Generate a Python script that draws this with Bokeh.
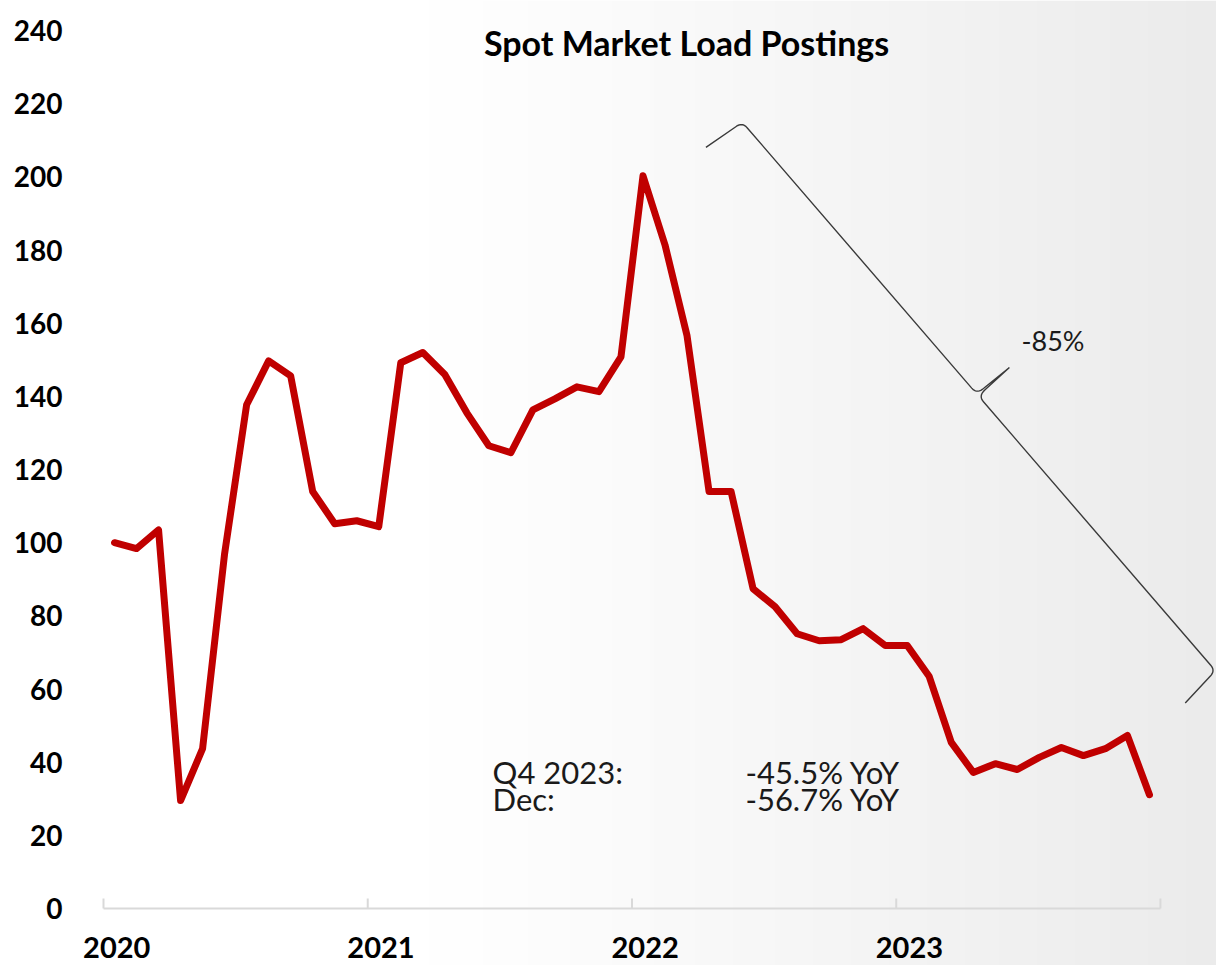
import numpy as np
from bokeh.plotting import figure
from bokeh.models import Range1d, FixedTicker
from bokeh.core.properties import value
from bokeh.embed import file_html
from bokeh.resources import INLINE

# ---------------- data ----------------
TITLE = "Spot Market Load Postings"
MONTH_IDX = list(range(48))  # Jan 2020 .. Dec 2023
LOADS = [100.0, 98.4, 103.5, 29.5, 43.7, 97.0, 137.7, 149.7, 145.6, 114.0, 105.2, 106.0,
         104.4, 149.2, 152.0, 146.0, 135.5, 126.5, 124.6, 136.3, 139.3, 142.6, 141.3, 150.8,
         200.3, 181.4, 156.6, 114.0, 114.0, 87.4, 82.5, 75.1, 73.2, 73.5, 76.5, 71.9,
         71.9, 63.4, 45.4, 37.2, 39.6, 38.0, 41.3, 44.0, 41.8, 43.7, 47.3, 31.1]
YEARS = ["2020", "2021", "2022", "2023"]
Y_TICKS = list(range(0, 241, 20))
NOTE_LABELS = ["Q4 2023:", "Dec:"]
NOTE_VALUES = ["-45.5% YoY", "-56.7% YoY"]
BRACE_LABEL = "-85%"

# ---------------- geometry ----------------
W, H = 1216, 965
LEFT = 76         # frame left edge (px)
AXIS_X = 103      # pixel column of the first month boundary
PX_X = 22.02      # px per month
PX_Y = 3.658      # px per unit
ZERO_Y = 908      # pixel row of value 0
FW = W - LEFT
x0 = -0.5 - (AXIS_X - LEFT) / PX_X
x1 = x0 + FW / PX_X
y1 = ZERO_Y / PX_Y
y0 = -(H - ZERO_Y) / PX_Y


def row(r):
    """pixel row -> data y"""
    return (ZERO_Y - r) / PX_Y


FONT = value("Lato")

p = figure(width=W, height=H, output_backend="svg", toolbar_location=None,
           x_range=Range1d(x0, x1), y_range=Range1d(y0, y1),
           x_axis_type=None, min_border=0, min_border_left=LEFT)
p.outline_line_color = None
p.grid.visible = False
p.background_fill_color = None
p.border_fill_color = "white"

# background gradient (white left -> light grey right)
nx = 300
cols = np.arange(nx)
img_x = LEFT + (cols + 0.5) / nx * FW
t = np.clip((img_x - 430) / 790, 0, 1)
g = (255 - 20 * t ** 1.1).astype(np.uint8)
rgba = np.zeros((2, nx, 4), dtype=np.uint8)
rgba[..., 0] = g
rgba[..., 1] = g
rgba[..., 2] = g
rgba[..., 3] = 255
img = rgba.view(np.uint32).reshape(2, nx)
p.image_rgba(image=[img], x=x0, y=y0, dw=x1 - x0, dh=y1 - y0)

# y axis
ya = p.yaxis[0]
ya.ticker = FixedTicker(ticks=Y_TICKS)
ya.axis_line_color = None
ya.major_tick_line_color = None
ya.minor_tick_line_color = None
ya.major_label_standoff = 8
ya.major_label_text_font = "Lato"
ya.major_label_text_font_style = "bold"
ya.major_label_text_font_size = "28px"
ya.major_label_text_color = "black"

# x axis (line, year-boundary ticks, year labels)
n_years = len(YEARS)
edges = [12 * i - 0.5 for i in range(n_years + 1)]
p.segment(x0=[edges[0]], y0=[0], x1=[edges[-1]], y1=[0], line_color="#d9d9d9", line_width=2)
p.segment(x0=edges, y0=[0] * len(edges), x1=edges, y1=[10 / PX_Y] * len(edges),
          line_color="#d9d9d9", line_width=2)
p.text(x=[12 * i + 0.1 for i in range(n_years)], y=[row(947)] * n_years, text=YEARS,
       text_font=FONT, text_font_style="bold", text_font_size="29px",
       text_align="center", text_baseline="alphabetic", text_color="black")

# main series
p.line(MONTH_IDX, LOADS, line_color="#c00000", line_width=7,
       line_join="round", line_cap="round")

# title
p.text(x=[25.98], y=[row(42)], text=[TITLE], text_font=FONT, text_font_style="bold",
       text_font_size="34px", text_align="center", text_baseline="alphabetic",
       text_color="black")

# annotations
p.text(x=[17.17] * 2, y=[row(771), row(798)], text=NOTE_LABELS, text_font=FONT,
       text_font_size="31px", text_align="left", text_baseline="alphabetic",
       text_color="#1a1a1a")
p.text(x=[28.65] * 2, y=[row(771), row(798)], text=NOTE_VALUES, text_font=FONT,
       text_font_size="31px", text_align="left", text_baseline="alphabetic",
       text_color="#1a1a1a")
p.text(x=[41.19], y=[row(340)], text=[BRACE_LABEL], text_font=FONT,
       text_font_size="27px", text_align="left", text_baseline="alphabetic",
       text_color="#1a1a1a")

# curly brace
A = (28.52, 214.9)
B = (49.99, 65.06)
Apx = np.array([A[0] * PX_X, A[1] * PX_Y])
Bpx = np.array([B[0] * PX_X, B[1] * PX_Y])
dvec = Bpx - Apx
L = np.hypot(*dvec)
d = dvec / L
n = np.array([-d[1], d[0]])
if n[0] < 0:
    n = -n
h, tip, m = 44.0, 42.0, L / 2 - 2


def quad(p0, c, p1, k=10):
    s = np.linspace(0, 1, k)[:, None]
    p0, c, p1 = map(np.array, (p0, c, p1))
    return ((1 - s) ** 2 * p0 + 2 * (1 - s) * s * c + s ** 2 * p1).tolist()


pts = [[-5, -h], [-1, -7]]
pts += quad([-1, -7], [0, 0], [7, 0])
pts += quad([m - 9, 0], [m - 1, 0], [m - 1, 9])
pts += [[m, tip]]
pts += quad([m + 1, 9], [m + 1, 0], [m + 9, 0])
pts += quad([L - 7, 0], [L, 0], [L + 1, -7])
pts += [[L + 5, -h]]
pts = np.array(pts)
xy = Apx[None, :] + pts[:, :1] * d[None, :] + pts[:, 1:2] * n[None, :]
p.line(xy[:, 0] / PX_X, xy[:, 1] / PX_Y, line_color="#3a3a3a", line_width=1.4)

open("out.html", "w").write(file_html(p, INLINE))
